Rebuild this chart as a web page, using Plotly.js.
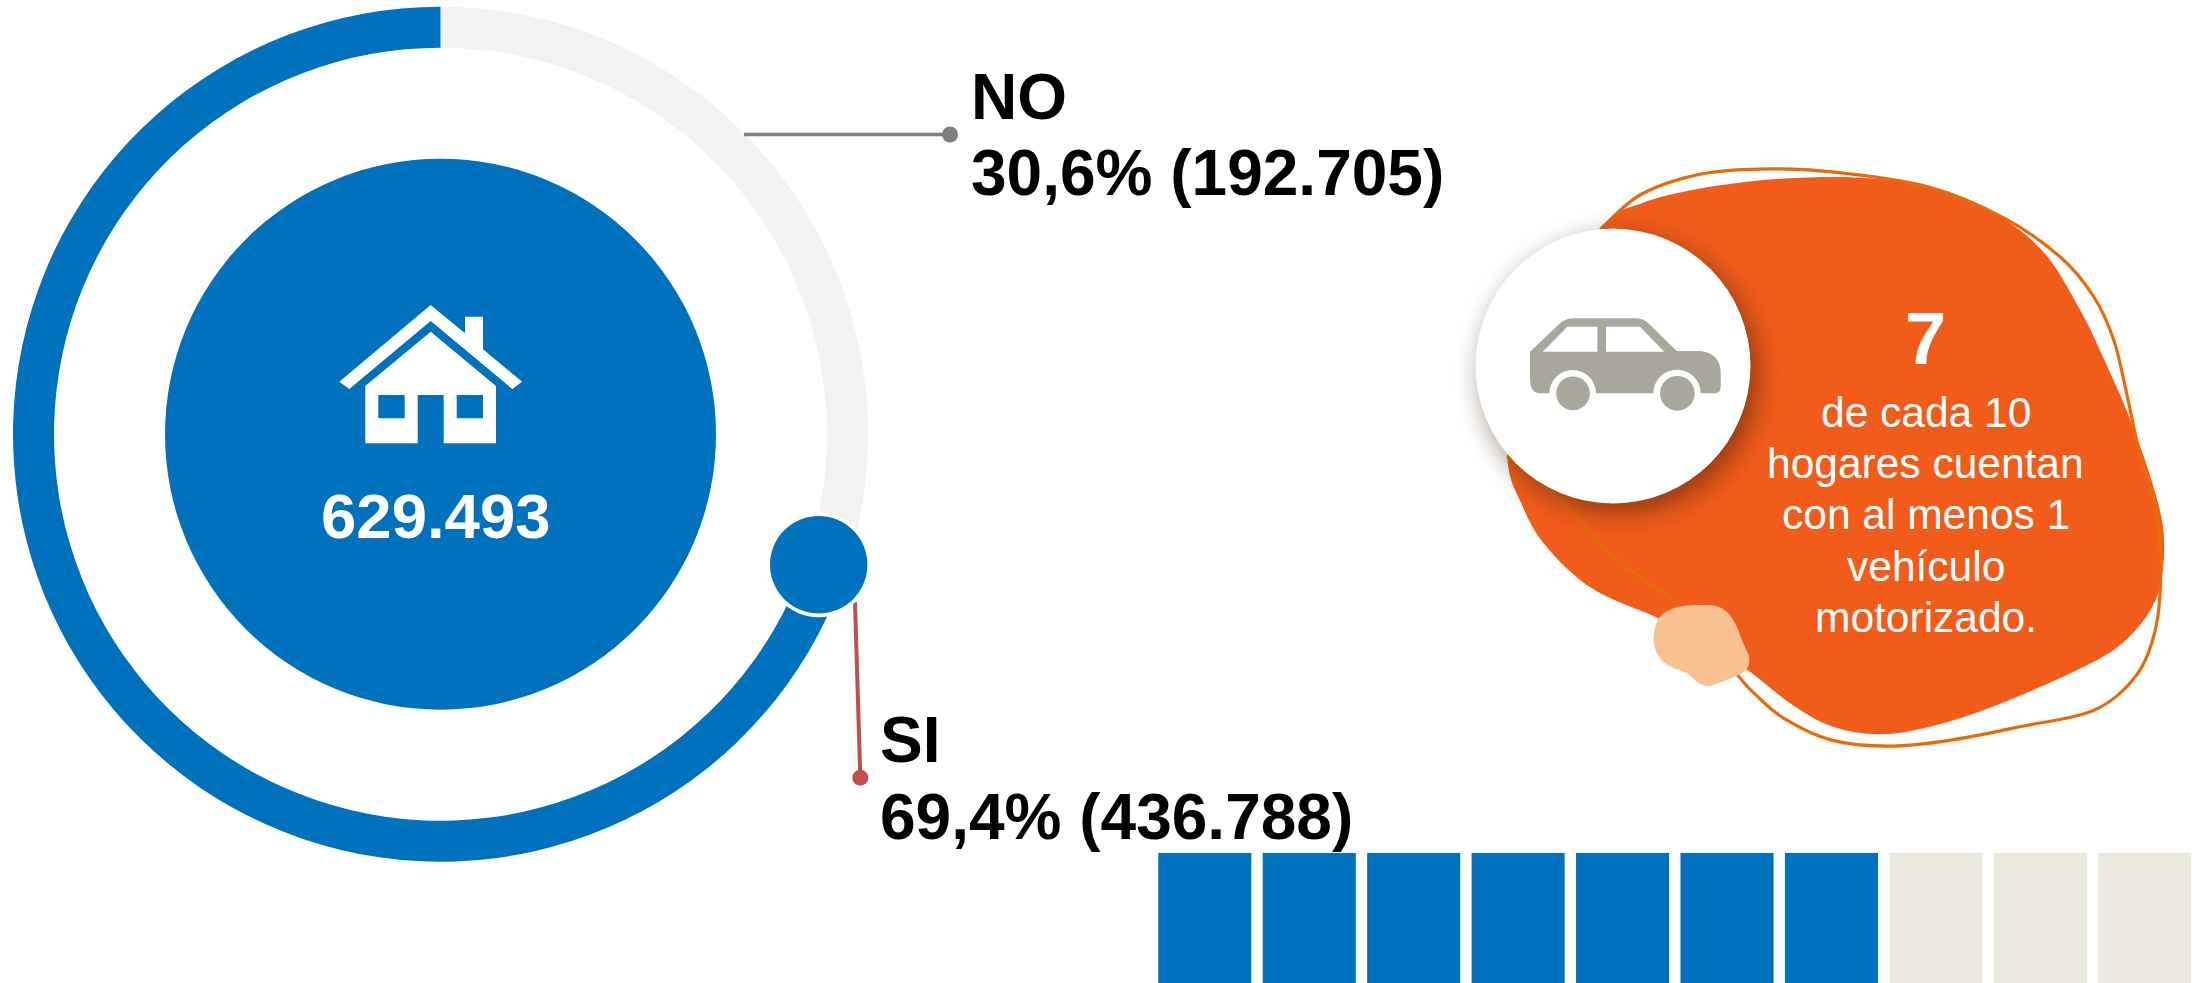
<!DOCTYPE html>
<html>
<head>
<meta charset="utf-8">
<script src="https://cdn.plot.ly/plotly-3.0.1.min.js"></script>
<style>html,body{margin:0;padding:0;background:#fff;overflow:hidden}#chart{width:2197px;height:983px}</style>
</head>
<body>
<div id="chart"></div>
<script>
// ---- data ----
const donutLabels = ['NO', 'SI'];
const donutValues = [192705, 436788];
const donutColors = ['#F2F2F2', '#0071BC'];
const totalLabel = '629.493';
const totalValue = [629493];
const noLabels = ['NO', '30,6% (192.705)'];
const siLabels = ['SI', '69,4% (436.788)'];
const waffleCats = ['1','2','3','4','5','6','7','8','9','10'];
const waffleVals = [1,1,1,1,1,1,1,1,1,1];
const waffleCols = ['#0071BC','#0071BC','#0071BC','#0071BC','#0071BC','#0071BC','#0071BC','#ECEADF','#ECEADF','#ECEADF'];
const bigNumber = '7';
const blobLines = ['de cada 10','hogares cuentan','con al menos 1','vehículo','motorizado.'];

// ---- page geometry ----
const W = 2197, H = 983;
const FONT = 'Liberation Sans, Arial, sans-serif';
const BLUE = '#0071BC';

// art coordinates -> page pixels
const bx = v => 1450 + v * 0.477;
const by = v => 150 + v * 0.3974;
const cx = v => 1510 + v / 3, cy = v => 300 + v / 3;
const kx = v => 1640 + v / 3, ky = v => 590 + v / 3;
const hx = v => 300 + v / 3, hy = v => 270 + v / 3;

function smooth(pts, closed, fx, fy) {
  const P = pts.map(p => [fx(p[0]), fy(p[1])]);
  const n = P.length;
  const g = i => closed ? P[(i + n) % n] : P[Math.max(0, Math.min(n - 1, i))];
  let d = 'M' + P[0][0].toFixed(1) + ',' + P[0][1].toFixed(1);
  const last = closed ? n : n - 1;
  for (let i = 0; i < last; i++) {
    const p0 = g(i - 1), p1 = g(i), p2 = g(i + 1), p3 = g(i + 2);
    const c1 = [p1[0] + (p2[0] - p0[0]) / 6, p1[1] + (p2[1] - p0[1]) / 6];
    const c2 = [p2[0] - (p3[0] - p1[0]) / 6, p2[1] - (p3[1] - p1[1]) / 6];
    d += 'C' + c1[0].toFixed(1) + ',' + c1[1].toFixed(1) + ' ' + c2[0].toFixed(1) + ',' + c2[1].toFixed(1) + ' ' + p2[0].toFixed(1) + ',' + p2[1].toFixed(1);
  }
  return d + (closed ? 'Z' : '');
}
function poly(pts, fx, fy) {
  return 'M' + pts.map(p => fx(p[0]).toFixed(1) + ',' + fy(p[1]).toFixed(1)).join('L') + 'Z';
}
function circle(x, y, r, color, extra) {
  return Object.assign({type:'circle', xref:'x', yref:'y', x0:x-r, x1:x+r, y0:y-r, y1:y+r, fillcolor:color, line:{width:0}, layer:'above'}, extra||{});
}
function path(d, color, extra) {
  return Object.assign({type:'path', xref:'x', yref:'y', path:d, fillcolor:color, line:{width:0}, layer:'above'}, extra||{});
}
// polygon with quadratic rounded joins: each point is [x, y] or [x, y, 'q'] (control point)
function rounded(pts, fx, fy) {
  let d = '';
  for (let i = 0; i < pts.length; i++) {
    const p = pts[i];
    if (p[2] === 'q') {
      const e = pts[++i];
      d += 'Q' + fx(p[0]).toFixed(1) + ',' + fy(p[1]).toFixed(1) + ' ' + fx(e[0]).toFixed(1) + ',' + fy(e[1]).toFixed(1);
    } else {
      d += (i === 0 ? 'M' : 'L') + fx(p[0]).toFixed(1) + ',' + fy(p[1]).toFixed(1);
    }
  }
  return d + 'Z';
}

const blobPts = [[315,200],[400,135],[520,98],[700,72],[890,72],[1050,112],[1160,172],[1250,265],[1320,400],[1365,510],[1430,690],[1485,890],[1497,1010],[1480,1130],[1420,1230],[1330,1300],[1150,1395],[1010,1450],[900,1470],[800,1450],[713,1392],[625,1310],[530,1240],[440,1180],[300,1105],[200,995],[150,890],[120,770],[130,500]];
const outlinePts = [[315,200],[400,112],[520,62],[650,48],[800,55],[1000,92],[1160,170],[1280,270],[1350,370],[1392,480],[1420,620],[1445,760],[1480,900],[1490,1050],[1480,1200],[1440,1320],[1350,1410],[1200,1450],[1050,1485],[920,1500],[800,1485],[700,1430],[640,1370],[604,1323],[482,1150],[350,1030],[230,880],[120,770]];
const peachPts = [[60,80],[110,52],[180,45],[240,52],[280,90],[310,160],[328,205],[318,240],[280,262],[210,287],[175,278],[140,250],[75,220],[45,175],[42,130]];
const carBody = [[60,155],[155,65],[175,55,'q'],[190,55],[375,55],[400,55,'q'],[415,70],[500,153],[570,153],[632,160,'q'],[632,220],[632,260],[632,280,'q'],[612,280],[85,280],[60,275,'q'],[60,240]];
const carWin1 = [[98,155],[172,80],[262,80],[262,155]];
const carWin2 = [[288,155],[288,80],[390,80],[463,155]];

const roof = [[118,335],[392,105],[495,190],[495,140],[549,140],[549,238],[666,335],[637,357],[392,153],[148,357]];
const walls = [[196,348],[392,185],[588,348],[588,520],[431,520],[431,375],[353,375],[353,520],[196,520]];
const win1 = [[235,375],[314,375],[314,445],[235,445]];
const win2 = [[470,375],[549,375],[549,445],[470,445]];

const shapes = [
  // leader lines and dots
  {type:'line', xref:'x', yref:'y', x0:744, x1:950, y0:134.5, y1:134.5, line:{color:'#7F7F7F', width:3.5}, layer:'above'},
  circle(950, 134.5, 8, '#7F7F7F'),
  {type:'line', xref:'x', yref:'y', x0:855, x1:860.3, y0:602, y1:777.7, line:{color:'#C0504D', width:4}, layer:'above'},
  circle(860.3, 777.7, 8, '#C0504D'),
  // bubble on the ring
  circle(818.7, 564.7, 52.5, '#FFFFFF'),
  circle(818.7, 564.7, 48.7, BLUE),
  // house
  path(poly(roof, hx, hy), '#FFFFFF'),
  path(poly(walls, hx, hy) + poly(win1, hx, hy) + poly(win2, hx, hy), '#FFFFFF'),
  // orange blob
  path(smooth(blobPts, true, bx, by), '#F25C1B'),
  path(smooth(outlinePts, false, bx, by), 'rgba(0,0,0,0)', {line:{color:'#E46C0A', width:3.2}}),
  path(smooth(peachPts, true, kx, ky), '#F9C090'),
  // car badge (index kept for the soft shadow)
  circle(1613, 366, 137.5, '#FFFFFF', {name:'badge'}),
  path(rounded(carBody, cx, cy), '#A9A69B'),
  path(poly(carWin1, cx, cy), '#FFFFFF'),
  path(poly(carWin2, cx, cy), '#FFFFFF'),
  circle(cx(188), cy(280), 70/3, '#FFFFFF'),
  circle(cx(501), cy(280), 71/3, '#FFFFFF'),
  circle(cx(189), cy(280), 50.5/3, '#A9A69B'),
  circle(cx(502), cy(280), 52/3, '#A9A69B')
];
const badgeIndex = shapes.findIndex(s => s.name === 'badge');

const annotations = [
  {text:'<b>'+totalLabel+'</b>', x:436, y:516, xref:'x', yref:'y', showarrow:false, xanchor:'center', yanchor:'middle', font:{family:FONT, size:63.5, color:'#FFFFFF'}},
  {text:'<b>'+bigNumber+'</b>', x:1925.5, y:338, xref:'x', yref:'y', showarrow:false, xanchor:'center', yanchor:'middle', font:{family:FONT, size:74, color:'#FFFFFF'}}
].concat(blobLines.map((t, i) => ({
  text:t, x:1925.5, y:412 + i * 51.4, xref:'x', yref:'y', showarrow:false, xanchor:'center', yanchor:'middle', font:{family:FONT, size:42.5, color:'#FFFFFF'}
})));

const R = 427.5, CX = 440.5, CY = 434.2, r2 = 275.5;
const traces = [
  {type:'scatter', mode:'text', xaxis:'x', yaxis:'y', hoverinfo:'skip', showlegend:false, cliponaxis:false,
   x:[971, 971, 880, 880], y:[103, 179, 745.5, 823],
   text:[noLabels[0], noLabels[1], siLabels[0], siLabels[1]].map(t => '<b>'+t+'</b>'),
   textposition:'middle right', textfont:{family:FONT, size:64, color:'#000000'}},
  {type:'bar', xaxis:'x2', yaxis:'y2', x:waffleCats, y:waffleVals, marker:{color:waffleCols, line:{width:0}}, hoverinfo:'skip', showlegend:false},
  {type:'pie', labels:donutLabels, values:donutValues, hole:386.5/427.5, sort:false, direction:'clockwise', rotation:0,
   marker:{colors:donutColors, line:{width:0}}, textinfo:'none', hoverinfo:'skip', showlegend:false,
   domain:{x:[(CX-R)/W,(CX+R)/W], y:[1-(CY+R)/H,1-(CY-R)/H]}},
  {type:'pie', labels:['Total'], values:totalValue, sort:false,
   marker:{colors:[BLUE], line:{width:0}}, textinfo:'none', hoverinfo:'skip', showlegend:false,
   domain:{x:[(CX-r2)/W,(CX+r2)/W], y:[1-(CY+r2)/H,1-(CY-r2)/H]}}
];

const layout = {
  width:W, height:H, margin:{l:0,r:0,t:0,b:0}, paper_bgcolor:'#FFFFFF', plot_bgcolor:'rgba(0,0,0,0)', showlegend:false,
  bargap:0.109,
  xaxis:{domain:[0,1], range:[0,W], visible:false, fixedrange:true},
  yaxis:{domain:[0,1], range:[H,0], visible:false, fixedrange:true},
  xaxis2:{domain:[1152.6/W,1], anchor:'y2', type:'category', range:[-0.5,9.5], visible:false, fixedrange:true},
  yaxis2:{domain:[0,130.3/H], anchor:'x2', range:[0,1], visible:false, fixedrange:true},
  shapes:shapes, annotations:annotations
};

Plotly.newPlot('chart', traces, layout, {displayModeBar:false, staticPlot:true}).then(() => {
  const el = document.querySelector('#chart .shapelayer path[data-index="'+badgeIndex+'"]');
  if (el) el.style.filter = 'drop-shadow(7px 9px 14px rgba(60,30,10,0.55))';
});
</script>
</body>
</html>
